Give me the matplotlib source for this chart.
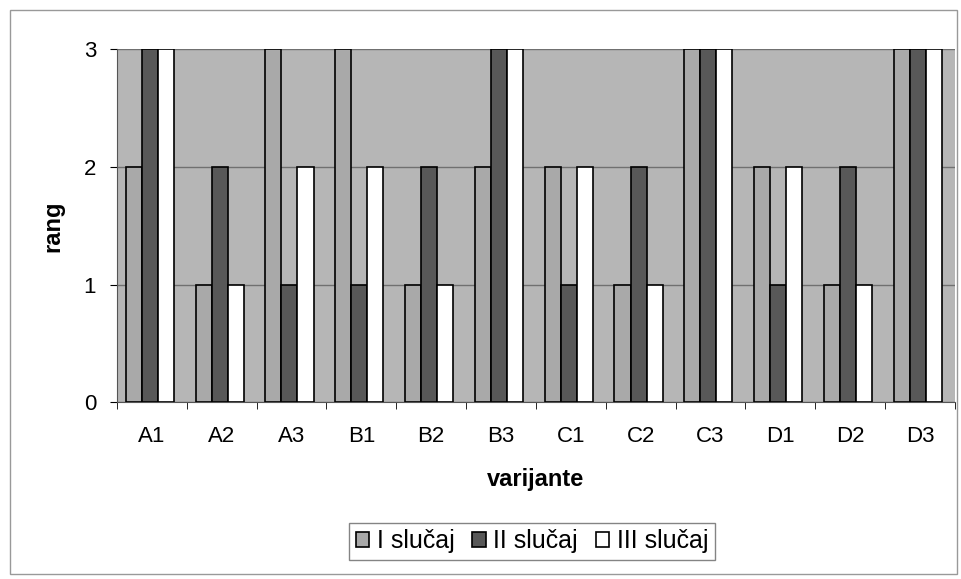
import numpy as np
import matplotlib.pyplot as plt
from matplotlib.patches import Rectangle

plt.rcParams["font.family"] = ["Liberation Sans", "DejaVu Sans"]

variants = ["A1", "A2", "A3", "B1", "B2", "B3", "C1", "C2", "C3", "D1", "D2", "D3"]
case_1 = [2, 1, 3, 3, 1, 2, 2, 1, 3, 2, 1, 3]
case_2 = [3, 2, 1, 1, 2, 3, 1, 2, 3, 1, 2, 3]
case_3 = [3, 1, 2, 2, 1, 3, 2, 1, 3, 2, 1, 3]
labels = ["I slučaj", "II slučaj", "III slučaj"]
colors = ["#a9a9a9", "#585858", "#ffffff"]

fig = plt.figure(figsize=(9.62, 5.79), dpi=100)
fig.patches.append(Rectangle((0.01, 0.008), 0.985, 0.975, transform=fig.transFigure,
                             fill=False, edgecolor="#999999", linewidth=1))
ax = fig.add_axes([0.1216, 0.305, 0.871, 0.61])
ax.set_facecolor("#b6b6b6")

x = np.arange(len(variants))
w = 0.23
for i, (vals, lab, col) in enumerate(zip([case_1, case_2, case_3], labels, colors)):
    ax.bar(x + (i - 1) * w - 0.03, vals, width=w, color=col, edgecolor="black",
           linewidth=1.2, label=lab, zorder=3)

ax.set_xlim(-0.5, len(variants) - 0.5)
ax.set_ylim(0, 3)
ax.set_yticks([0, 1, 2, 3])
ax.set_xticks(x)
ax.set_xticklabels(variants)
ax.set_xticks(np.arange(-0.5, len(variants), 1), minor=True)
ax.tick_params(axis="x", which="major", length=0, pad=17, labelsize=16)
ax.tick_params(axis="x", which="minor", length=5, direction="out")
ax.tick_params(axis="y", length=5, direction="out", labelsize=16, pad=10)
ax.grid(axis="y", color="#707070", linewidth=1, zorder=1)
for s in ["top", "right"]:
    ax.spines[s].set_visible(False)
ax.spines["left"].set_color("#555555")
ax.spines["bottom"].set_color("#555555")

ax.set_xlabel("varijante", fontsize=17, fontweight="bold", labelpad=15)
ax.set_ylabel("rang", fontsize=17, fontweight="bold", labelpad=14)

leg = fig.legend(loc="lower center", bbox_to_anchor=(0.553, 0.012), ncol=3,
                 fontsize=18, frameon=True, fancybox=False, edgecolor="#666666",
                 handlelength=0.55, handleheight=0.55, handletextpad=0.3,
                 columnspacing=0.7, borderpad=0.25)
leg.get_frame().set_linewidth(1)

fig.savefig("out.png", dpi=100)
